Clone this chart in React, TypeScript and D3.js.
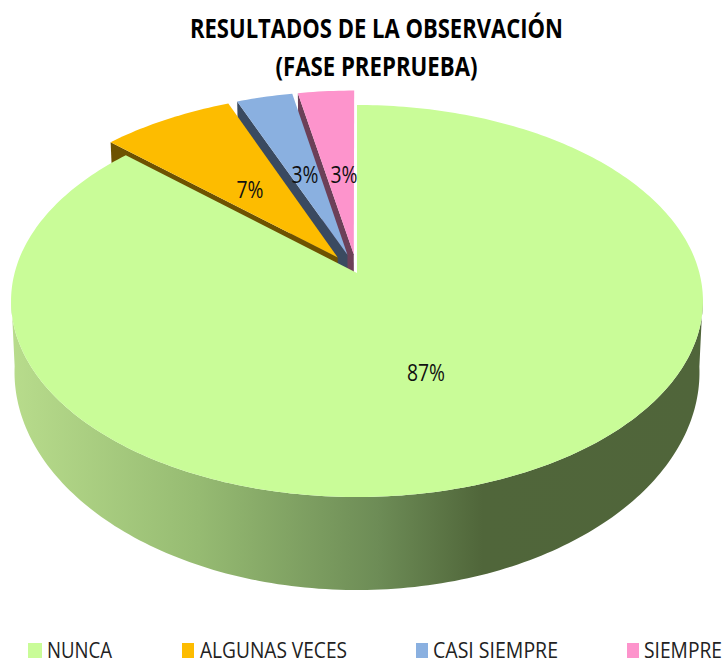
import React from "react";
import * as d3 from "d3";

const width = 725;
const height = 660;

const categories = ["NUNCA", "ALGUNAS VECES", "CASI SIEMPRE", "SIEMPRE"];
const shares = [87, 7.2, 3.05, 3.05];
const titleLines = ["RESULTADOS DE LA OBSERVACIÓN", "(FASE PREPRUEBA)"];

const faceColors = ["#c9fc98", "#fdbc00", "#8ab0e0", "#fd94cc"];
const wallColors = ["#5a7240", "#6e5200", "#3a4a60", "#6c4058"];
const explode = [0, 0.1, 0.1, 0.1];

// perspective of the pie plane, fitted to the top, centre and bottom of the disc
const cx = 357;
const persp = -0.1429;
const scaleX = 342.4;
const scaleYa = 153;
const centreY = 273;
const horizon = scaleYa / persp;

type Pt = [number, number];

function project(x: number, y: number): Pt {
  const w = 1 + persp * y;
  return [cx + (scaleX * x) / w, (scaleYa * y + centreY) / w];
}

// drop a point of the top face onto the bottom face, deeper toward the viewer
function drop(p: Pt): Pt {
  const t = (p[1] - horizon) / (497 - horizon);
  return [cx + (p[0] - cx) * 0.99, p[1] + 93 * t * t];
}

function arcPoints(a0: number, a1: number, off: Pt): Pt[] {
  const n = Math.max(2, Math.ceil(((a1 - a0) * 180) / Math.PI));
  return d3.range(n + 1).map(i => {
    const a = a0 + ((a1 - a0) * i) / n;
    return project(Math.sin(a) + off[0], -Math.cos(a) + off[1]);
  });
}

const line = d3.line<Pt>().x(d => d[0]).y(d => d[1]);
const poly = (pts: Pt[]) => line(pts) + "Z";

const slices = d3.pie<number>().sort(null)(shares);
const pct = d3.format(".0f");

const labelPos: Pt[] = [
  [426, 381],
  [250, 198],
  [305, 183],
  [344, 183]
];

const swatchX = [28, 182, 416, 627];
const swatchW = [14, 12, 12, 12];
const legendTextX = [47, 200, 433, 644];
const legendW = [65, 147, 125, 78];

export default function App() {
  const parts = slices.map((s, i) => {
    const mid = (s.startAngle + s.endAngle) / 2;
    const off: Pt = [Math.sin(mid) * explode[i], -Math.cos(mid) * explode[i]];
    const apex = project(off[0], off[1]);
    const rim = arcPoints(s.startAngle, s.endAngle, off);
    return { i, apex, rim };
  });

  const green = parts[0];
  // front wall of the big slice: whole rim from the right extreme round to the left extreme
  const frontRim = green.rim.filter(p => p[1] >= 295);
  const frontWall = poly([...frontRim, ...frontRim.map(drop).reverse()]);

  return (
    <svg
      width={width}
      height={height}
      style={{ position: "absolute", left: 0, top: 0, background: "#fff" }}
    >
      <defs>
        <linearGradient id="wall" gradientUnits="userSpaceOnUse" x1="11" x2="704" y1="0" y2="0">
          <stop offset="0" stopColor="#b8dc8c" />
          <stop offset="0.27" stopColor="#96bb72" />
          <stop offset="0.53" stopColor="#6d8c56" />
          <stop offset="0.68" stopColor="#50663a" />
          <stop offset="1" stopColor="#50653a" />
        </linearGradient>
      </defs>

      {titleLines.map((t, i) => (
        <text
          key={t}
          x={376.5}
          y={38 + i * 38}
          textAnchor="middle"
          fontFamily="'Open Sans', sans-serif"
          fontWeight="bold"
          fontSize={27}
          textLength={i === 0 ? 373 : 202}
          lengthAdjust="spacingAndGlyphs"
          fill="#000"
        >
          {t}
        </text>
      ))}

      {[3, 2, 1].map(i => {
        const { apex, rim } = parts[i];
        const first = rim[0];
        return (
          <g key={i}>
            <path d={poly([first, apex, drop(apex), drop(first)])} fill={wallColors[i]} />
            <path d={poly([apex, ...rim])} fill={faceColors[i]} />
          </g>
        );
      })}

      <path d={frontWall} fill="url(#wall)" />
      <path d={poly([green.apex, ...green.rim])} fill={faceColors[0]} />

      {labelPos.map((p, i) => (
        <text
          key={i}
          x={p[0]}
          y={p[1]}
          textAnchor="middle"
          fontFamily="'Open Sans', sans-serif"
          fontSize={24}
          textLength={i === 0 ? 38 : 27}
          lengthAdjust="spacingAndGlyphs"
          fill="#111"
        >
          {`${pct(shares[i])}%`}
        </text>
      ))}

      {categories.map((c, i) => (
        <g key={c}>
          <rect x={swatchX[i]} y={643} width={swatchW[i]} height={15} fill={faceColors[i]} />
          <text
            x={legendTextX[i]}
            y={658}
            fontFamily="'Open Sans', sans-serif"
            fontSize={21}
            textLength={legendW[i]}
            lengthAdjust="spacingAndGlyphs"
            fill="#222"
          >
            {c}
          </text>
        </g>
      ))}
    </svg>
  );
}
